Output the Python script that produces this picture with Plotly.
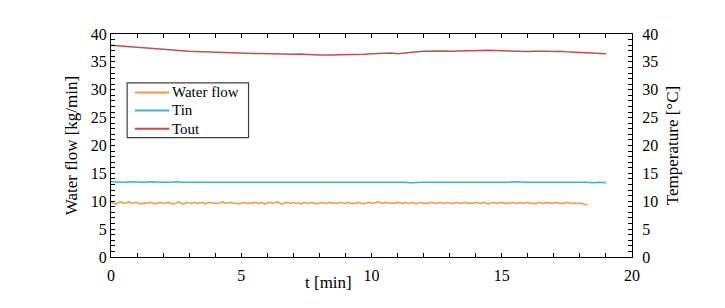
import numpy as np
import plotly.graph_objects as go

# ---------------- data ----------------
flow_step = 0.1  # min between water-flow samples
water_flow = [
    9.8, 9.7, 9.5, 9.8, 9.9, 9.6, 9.7, 9.9, 9.6, 9.7,
    9.8, 9.5, 9.6, 9.7, 9.6, 9.8, 9.7, 9.5, 9.7, 9.8,
    9.6, 9.7, 9.8, 9.6, 9.5, 9.7, 9.9, 9.6, 9.5, 9.8,
    9.7, 9.6, 9.8, 9.6, 9.7, 9.8, 9.5, 9.7, 9.8, 9.6,
    9.7, 9.6, 9.8, 9.9, 9.6, 9.7, 9.8, 9.6, 9.7, 9.5,
    9.7, 9.8, 9.6, 9.7, 9.6, 9.8, 9.7, 9.6, 9.8, 9.5,
    9.7, 9.8, 9.6, 9.7, 9.9, 9.6, 9.5, 9.8, 9.7, 9.6,
    9.8, 9.6, 9.7, 9.5, 9.8, 9.7, 9.6, 9.8, 9.7, 9.5,
    9.7, 9.8, 9.6, 9.7, 9.8, 9.6, 9.7, 9.6, 9.8, 9.7,
    9.6, 9.8, 9.6, 9.7, 9.6, 9.8, 9.7, 9.5, 9.7, 9.8,
    9.6, 9.7, 9.8, 9.9, 9.6, 9.7, 9.8, 9.6, 9.7, 9.6,
    9.8, 9.7, 9.6, 9.8, 9.6, 9.7, 9.8, 9.5, 9.7, 9.8,
    9.6, 9.7, 9.6, 9.8, 9.7, 9.6, 9.8, 9.7, 9.6, 9.8,
    9.7, 9.6, 9.7, 9.8, 9.6, 9.7, 9.8, 9.6, 9.7, 9.6,
    9.8, 9.7, 9.6, 9.8, 9.7, 9.5, 9.7, 9.8, 9.6, 9.7,
    9.8, 9.6, 9.7, 9.6, 9.8, 9.7, 9.6, 9.8, 9.6, 9.7,
    9.8, 9.6, 9.7, 9.5, 9.8, 9.7, 9.6, 9.8, 9.7, 9.6,
    9.7, 9.8, 9.6, 9.7, 9.6, 9.8, 9.7, 9.6, 9.7, 9.6,
    9.7, 9.6, 9.5, 9.3,
]

temp_step = 0.25  # min between temperature samples
t_in = [
    13.5, 13.4, 13.4, 13.5, 13.4, 13.4, 13.5, 13.4, 13.4, 13.4,
    13.5, 13.4, 13.4, 13.4, 13.5, 13.4, 13.4, 13.5, 13.4, 13.4,
    13.4, 13.5, 13.4, 13.4, 13.4, 13.5, 13.4, 13.4, 13.4, 13.5,
    13.4, 13.4, 13.5, 13.4, 13.4, 13.4, 13.4, 13.5, 13.4, 13.4,
    13.4, 13.4, 13.5, 13.4, 13.4, 13.4, 13.3, 13.4, 13.4, 13.4,
    13.4, 13.3, 13.4, 13.4, 13.4, 13.4, 13.3, 13.4, 13.4, 13.4,
    13.4, 13.4, 13.5, 13.4, 13.4, 13.4, 13.4, 13.4, 13.4, 13.5,
    13.4, 13.4, 13.4, 13.4, 13.3, 13.4, 13.3,
]
t_out = [
    38.0, 37.9, 37.8, 37.75, 37.6, 37.55, 37.5, 37.4, 37.3, 37.2,
    37.1, 37.0, 36.9, 36.85, 36.8, 36.75, 36.7, 36.7, 36.65, 36.6,
    36.6, 36.55, 36.5, 36.5, 36.45, 36.5, 36.4, 36.4, 36.35, 36.4,
    36.3, 36.3, 36.25, 36.2, 36.25, 36.3, 36.3, 36.35, 36.4, 36.35,
    36.45, 36.5, 36.55, 36.6, 36.45, 36.6, 36.7, 36.8, 36.9, 36.95,
    37.0, 36.95, 36.9, 36.95, 37.0, 37.05, 37.0, 37.05, 37.1, 37.05,
    37.0, 36.9, 36.95, 36.9, 36.85, 36.9, 36.95, 36.9, 36.85, 36.9,
    36.8, 36.7, 36.7, 36.65, 36.6, 36.5, 36.45,
]

series_names = ["Water flow", "Tin", "Tout"]
series_colors = ["#F79646", "#4BACC6", "#C0504D"]
x_title = "t [min]"
y_title = "Water flow [kg/min]"
y2_title = "Temperature [°C]"

# ---------------- figure ----------------
t_flow = np.round(np.arange(len(water_flow)) * flow_step, 3)
t_temp = np.round(np.arange(len(t_in)) * temp_step, 3)
t_temp_out = np.round(np.arange(len(t_out)) * temp_step, 3)

FONT = "Liberation Serif"
fig = go.Figure()
fig.add_trace(go.Scatter(x=t_flow, y=water_flow, mode="lines", name=series_names[0],
                         line=dict(color=series_colors[0], width=1.5)))
fig.add_trace(go.Scatter(x=t_temp, y=t_in, mode="lines", name=series_names[1],
                         line=dict(color=series_colors[1], width=1.5), yaxis="y2"))
fig.add_trace(go.Scatter(x=t_temp_out, y=t_out, mode="lines", name=series_names[2],
                         line=dict(color=series_colors[2], width=1.5), yaxis="y2"))

axis_common = dict(showgrid=False, zeroline=False, showline=True, linecolor="black",
                   linewidth=1, ticks="inside", ticklen=4, tickcolor="black",
                   tickfont=dict(family=FONT, size=16, color="black"))

# compact boxed legend (Excel style), drawn in paper coordinates
shapes = [dict(type="rect", xref="paper", yref="paper", x0=0.031, x1=0.264,
               y0=0.535, y1=0.781, line=dict(color="#404040", width=1.2),
               fillcolor="white", layer="above")]
annotations = []
legend_rows = [0.738, 0.657, 0.575]
for name, color, yy in zip(series_names, series_colors, legend_rows):
    shapes.append(dict(type="line", xref="paper", yref="paper", x0=0.046, x1=0.112,
                       y0=yy, y1=yy, line=dict(color=color, width=2), layer="above"))
    annotations.append(dict(text=name, xref="paper", yref="paper", x=0.114, y=yy,
                            xanchor="left", yanchor="middle", showarrow=False,
                            font=dict(family=FONT, size=15, color="black")))
annotations.append(dict(text=x_title, xref="paper", yref="paper", x=0.418, y=-0.113,
                        xanchor="center", yanchor="middle", showarrow=False,
                        font=dict(family=FONT, size=17, color="black")))

# page body has an 8px margin, so shift the plot area back by 8px
fig.update_layout(
    width=725, height=308,
    margin=dict(l=103, r=101, t=26, b=59),
    paper_bgcolor="white", plot_bgcolor="white",
    font=dict(family=FONT, size=16, color="black"),
    showlegend=False,
    shapes=shapes, annotations=annotations,
    xaxis=dict(range=[0, 20], dtick=5, mirror="ticks", ticklabelstandoff=4,
               minor=dict(dtick=1, ticks="inside", ticklen=4, tickcolor="black"),
               **axis_common),
    yaxis=dict(range=[0, 40], dtick=5,
               minor=dict(dtick=1, ticks="inside", ticklen=4, tickcolor="black"),
               title=dict(text=y_title, font=dict(family=FONT, size=17), standoff=8),
               **axis_common),
    yaxis2=dict(range=[0, 40], dtick=5, overlaying="y", side="right", ticklabelstandoff=6,
                minor=dict(dtick=1, ticks="inside", ticklen=4, tickcolor="black"),
                title=dict(text=y2_title, font=dict(family=FONT, size=17), standoff=8),
                **axis_common),
)

fig.write_html("out.html")
